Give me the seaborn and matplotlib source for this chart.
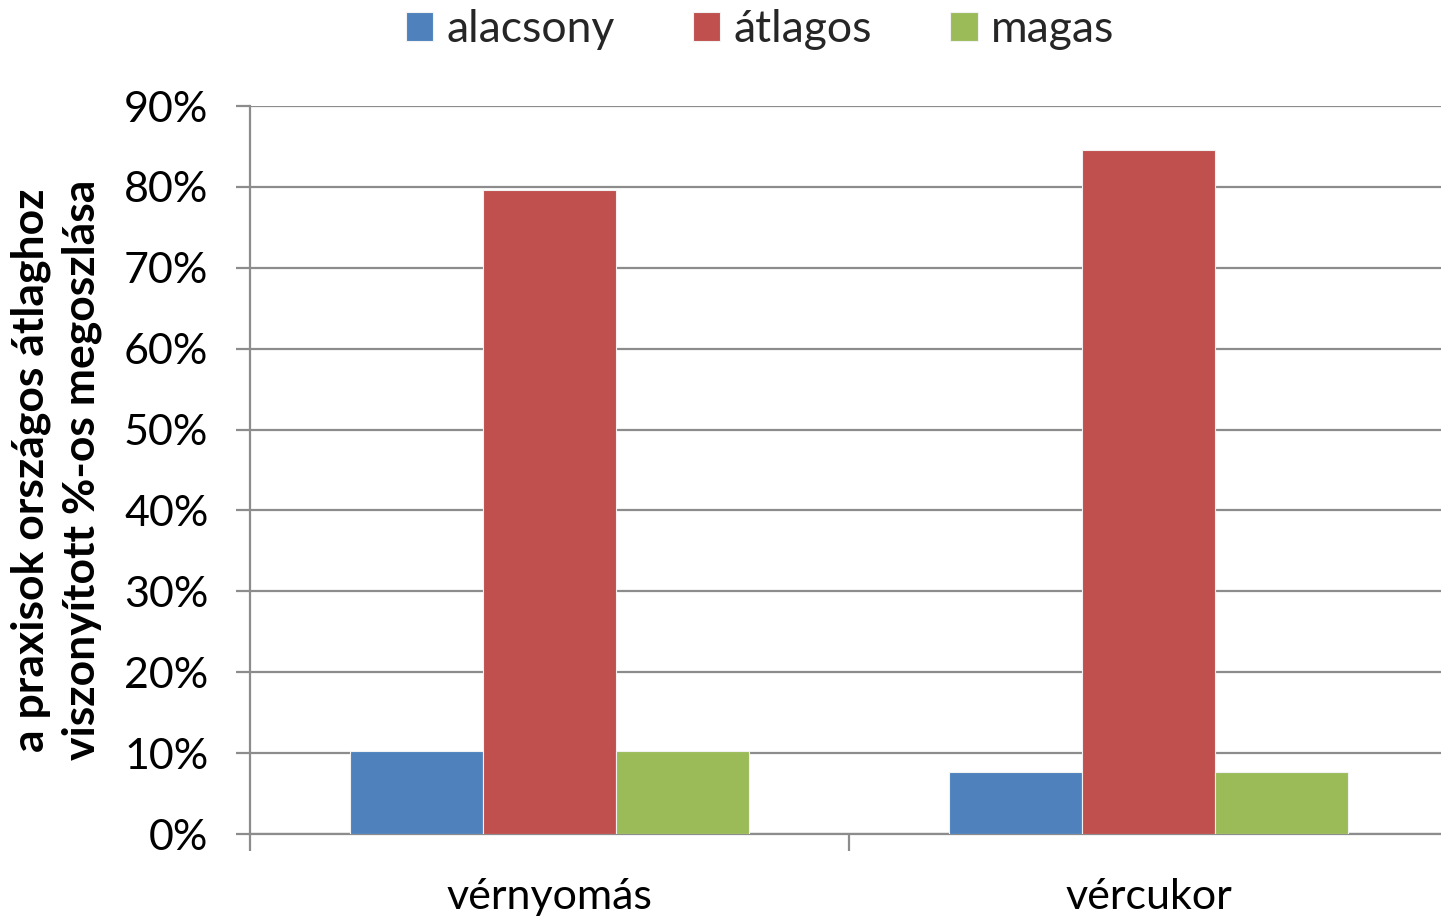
import pandas as pd
import seaborn as sns
import matplotlib.pyplot as plt
from matplotlib.ticker import PercentFormatter, FixedLocator

# data
categories = ['vérnyomás', 'vércukor']
levels = ['alacsony', 'átlagos', 'magas']
alacsony = [10.2, 7.7]
atlagos = [79.6, 84.6]
magas = [10.2, 7.7]
yticks = [0, 10, 20, 30, 40, 50, 60, 70, 80, 90]

colours = ['#4F81BD', '#C0504D', '#9BBB59']

# long format for seaborn
df = pd.DataFrame({
    'kategoria': categories * 3,
    'szint': [levels[0]] * 2 + [levels[1]] * 2 + [levels[2]] * 2,
    'ertek': alacsony + atlagos + magas,
})

sns.set_theme(style="white")
plt.rcParams['font.family'] = ['Lato', 'DejaVu Sans']

fig = plt.figure(figsize=(14.41, 9.17), dpi=100)
# axes run a little past the right edge of the figure, as in the original
ax = fig.add_axes([250 / 1441, 83 / 917, 1198 / 1441, 728 / 917])

sns.barplot(data=df, x='kategoria', y='ertek', hue='szint', order=categories,
            hue_order=levels, palette=colours, width=0.665, saturation=1,
            edgecolor='#f2f2f2', linewidth=0.8, ax=ax, zorder=3)

# axes / grid
ax.set_xlim(-0.5, 1.5)
ax.set_ylim(0, 90)
ax.set_yticks(yticks)
ax.yaxis.set_major_formatter(PercentFormatter(decimals=0))
ax.grid(axis='y', color='#8c8c8c', linewidth=1.6, zorder=0)
ax.set_axisbelow(True)
for s in ['top', 'right']:
    ax.spines[s].set_visible(False)
for s in ['left', 'bottom']:
    ax.spines[s].set_color('#8c8c8c')
    ax.spines[s].set_linewidth(1.6)

ax.tick_params(axis='y', length=10, width=1.6, color='#8c8c8c', labelsize=31,
               pad=20, left=True)
ax.tick_params(axis='x', which='major', length=0, labelsize=31, pad=32)
ax.xaxis.set_minor_locator(FixedLocator([-0.5, 0.5, 1.5]))
ax.tick_params(axis='x', which='minor', length=12, width=1.6, color='#8c8c8c',
               bottom=True)
for lab in ax.get_xticklabels() + ax.get_yticklabels():
    lab.set_color('black')

ax.set_xlabel('')
ax.set_ylabel('a praxisok országos átlaghoz\nviszonyított %-os megoszlása',
              fontsize=32, fontweight='bold', color='black', linespacing=1.3,
              labelpad=16)

# legend on top
handles, labels = ax.get_legend_handles_labels()
ax.legend_.remove()
fig.legend(handles, labels, loc='center', bbox_to_anchor=(760 / 1441, 1 - 30 / 917),
           ncol=3, frameon=False, fontsize=32, handlelength=0.62, handleheight=0.62,
           handletextpad=0.3, columnspacing=1.75)

fig.savefig('out.png', dpi=100)
